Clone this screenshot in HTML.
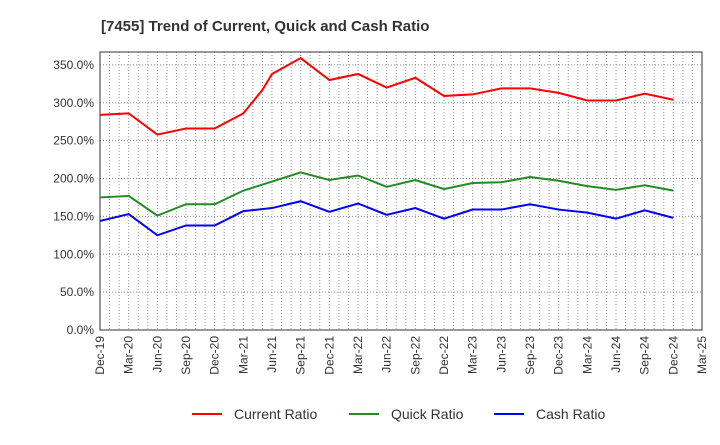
<!DOCTYPE html>
<html><head><meta charset="utf-8"><style>
body{margin:0;background:#fff;font-family:"Liberation Sans",sans-serif}
svg text{font-family:"Liberation Sans",sans-serif}
</style></head><body>
<svg width="720" height="440" id="c">
<text x="101" y="31" font-size="15" font-weight="bold" fill="#333">[7455]  Trend of Current, Quick and Cash Ratio</text>
<g id="grid"></g><g id="axes"></g><g id="series"></g>
<g>
<line x1="192" y1="414" x2="222" y2="414" stroke="#f00" stroke-width="2"/><text x="234" y="419" font-size="14" fill="#333">Current Ratio</text>
<line x1="349" y1="414" x2="379" y2="414" stroke="#228b22" stroke-width="2"/><text x="391" y="419" font-size="14" fill="#333">Quick Ratio</text>
<line x1="494" y1="414" x2="524" y2="414" stroke="#00f" stroke-width="2"/><text x="536" y="419" font-size="14" fill="#333">Cash Ratio</text>
</g>
</svg>
<script>
const xLabels=["Dec-19","Mar-20","Jun-20","Sep-20","Dec-20","Mar-21","Jun-21","Sep-21","Dec-21","Mar-22","Jun-22","Sep-22","Dec-22","Mar-23","Jun-23","Sep-23","Dec-23","Mar-24","Jun-24","Sep-24","Dec-24","Mar-25"];
const yTicks=[0,50,100,150,200,250,300,350];
const currentMonths=[0,3,6,9,12,15,17,18,21,24,27,30,33,36,39,42,45,48,51,54,57,60];
const currentVals=[284,286,258,266,266,286,317,338,359,330,338,320,333,309,311,319,319,313,303,303,312,304];
const qMonths=[0,3,6,9,12,15,18,21,24,27,30,33,36,39,42,45,48,51,54,57,60];
const quickVals=[175,177,151,166,166,184,196,208,198,204,189,198,186,194,195,202,197,190,185,191,184];
const cashVals=[144,153,125,138,138,157,161,170,156,167,152,161,147,159,159,166,159,155,147,158,148];
const X0=100,X1=702,Y0=330,Y1=52,yMax=367;
const xs=m=>X0+m*(X1-X0)/63, ys=v=>Y0-v*(Y0-Y1)/yMax;
const NS="http://www.w3.org/2000/svg";
function mk(t,a,p){const e=document.createElementNS(NS,t);for(const k in a)e.setAttribute(k,a[k]);p.appendChild(e);return e;}
const g=document.getElementById('grid'),ax=document.getElementById('axes'),s=document.getElementById('series');
for(let m=1;m<63;m++){const l=mk('line',{x1:xs(m),x2:xs(m),y1:Y1,y2:Y0,stroke:'#999','stroke-dasharray':'1,2','stroke-width':1},g);

}
yTicks.forEach(v=>{const l=mk('line',{x1:X0,x2:X1,y1:ys(v),y2:ys(v),stroke:'#888','stroke-dasharray':'1,2'},g);


const t=mk('text',{x:X0-6,y:ys(v)+4,'text-anchor':'end','font-size':12,fill:'#333'},ax);t.textContent=v.toFixed(1)+'%';

});
const r=mk('rect',{x:X0,y:Y1,width:X1-X0,height:Y0-Y1,fill:'none',stroke:'#333'},ax);


xLabels.forEach((lb,i)=>{const x=xs(i*3);const t=mk('text',{transform:`translate(${x+4},${Y0+6}) rotate(-90)`,'text-anchor':'end','font-size':12,fill:'#333'},ax);t.textContent=lb;

});
function line(ms,vs,c,n){const p=mk('polyline',{points:ms.map((m,i)=>xs(m)+','+ys(vs[i])).join(' '),fill:'none',stroke:c,'stroke-width':2},s);

}
line(currentMonths,currentVals,'#f00','current-ratio-line');
line(qMonths,quickVals,'#228b22','quick-ratio-line');
line(qMonths,cashVals,'#00f','cash-ratio-line');
</script>
</body></html>
